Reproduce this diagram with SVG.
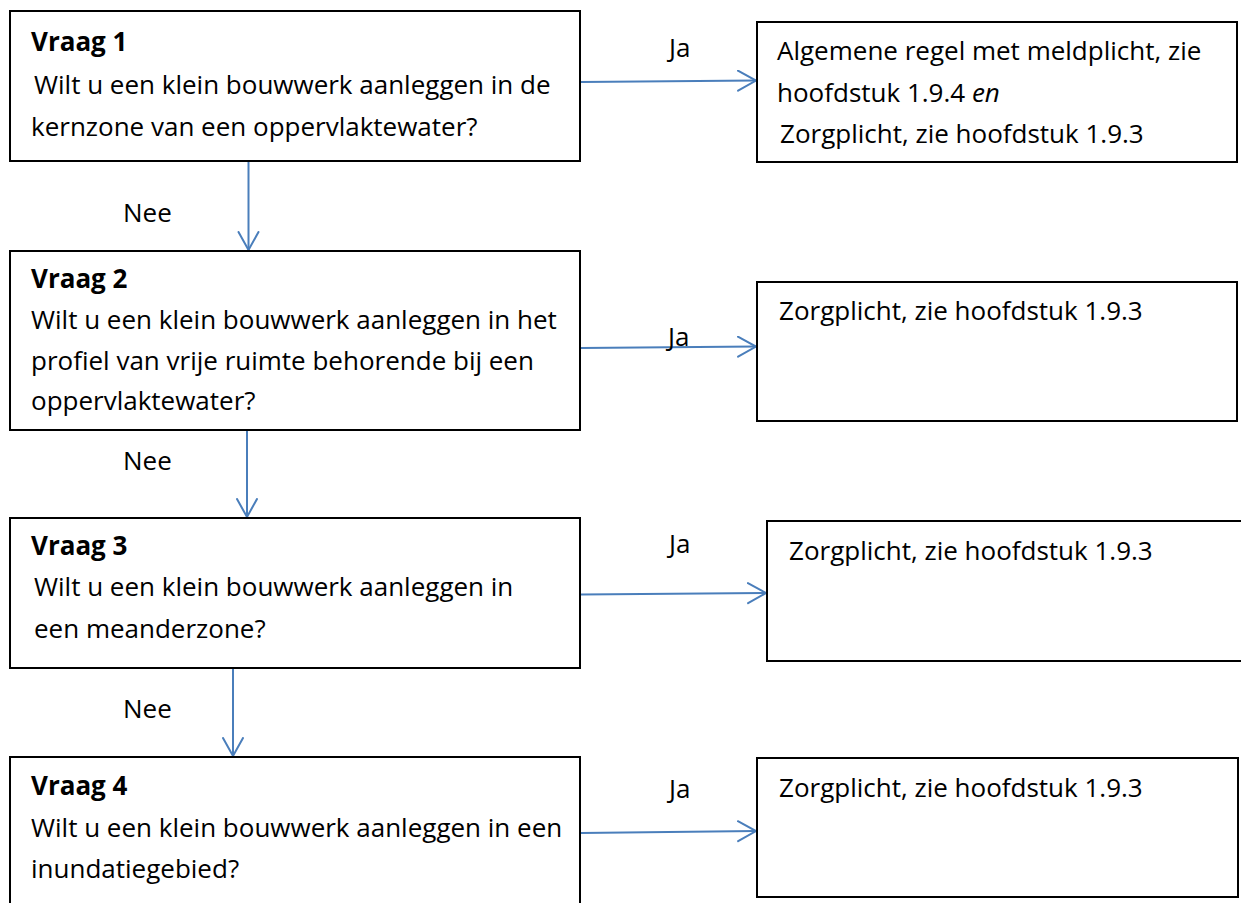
<svg xmlns="http://www.w3.org/2000/svg" width="1241" height="903" viewBox="0 0 1241 903">
<style>
  .box { fill: #ffffff; stroke: #000000; stroke-width: 2; }
  .t { font-family: "Open Sans", "Liberation Sans", sans-serif; font-size: 26px; fill: #000000; }
  .b { font-weight: bold; }
  .conn { stroke: #4A7EBB; stroke-width: 2; fill: none; }
  .head { stroke: #4A7EBB; stroke-width: 2; fill: none; stroke-linecap: round; stroke-linejoin: miter; }
</style>
<defs>
  <marker id="arr" markerWidth="24" markerHeight="24" refX="19" refY="11" orient="auto" markerUnits="userSpaceOnUse">
    <path class="head" d="M1,1 L19,11 L1,21"/>
  </marker>
</defs>
<rect width="1241" height="903" fill="#ffffff"/>

<g id="connectors">
  <line class="conn" x1="248.5" y1="162" x2="248.5" y2="250" marker-end="url(#arr)"/>
  <line class="conn" x1="247" y1="431" x2="247" y2="517" marker-end="url(#arr)"/>
  <line class="conn" x1="233" y1="669" x2="233" y2="756" marker-end="url(#arr)"/>
  <line class="conn" x1="581" y1="82" x2="756" y2="80.5" marker-end="url(#arr)"/>
  <line class="conn" x1="581" y1="348" x2="756" y2="346.5" marker-end="url(#arr)"/>
  <line class="conn" x1="581" y1="594.5" x2="766" y2="593" marker-end="url(#arr)"/>
  <line class="conn" x1="581" y1="833" x2="756" y2="831" marker-end="url(#arr)"/>
  <text class="t" x="669" y="57">Ja</text>
  <text class="t" x="668" y="346">Ja</text>
  <text class="t" x="669" y="553">Ja</text>
  <text class="t" x="669" y="798">Ja</text>
  <text class="t" x="123" y="222">Nee</text>
  <text class="t" x="123" y="470">Nee</text>
  <text class="t" x="123" y="718">Nee</text>
</g>

<g id="q1">
  <rect class="box" x="10" y="11" width="570" height="150"/>
  <text class="t b" x="31" y="51">Vraag 1</text>
  <text class="t" x="34" y="94">Wilt u een klein bouwwerk aanleggen in de</text>
  <text class="t" x="31" y="136">kernzone van een oppervlaktewater?</text>
</g>

<g id="r1">
  <rect class="box" x="757" y="22" width="480" height="140"/>
  <text class="t" x="777" y="60">Algemene regel met meldplicht, zie</text>
  <text class="t" x="777" y="101.5">hoofdstuk 1.9.4 <tspan font-style="italic">en</tspan></text>
  <text class="t" x="780" y="143">Zorgplicht, zie hoofdstuk 1.9.3</text>
</g>

<g id="q2">
  <rect class="box" x="10" y="251" width="570" height="179"/>
  <text class="t b" x="31" y="288">Vraag 2</text>
  <text class="t" x="31" y="329">Wilt u een klein bouwwerk aanleggen in het</text>
  <text class="t" x="31" y="370">profiel van vrije ruimte behorende bij een</text>
  <text class="t" x="31" y="410">oppervlaktewater?</text>
</g>

<g id="r2">
  <rect class="box" x="757" y="282" width="480" height="139"/>
  <text class="t" x="779" y="320">Zorgplicht, zie hoofdstuk 1.9.3</text>
</g>

<g id="q3">
  <rect class="box" x="10" y="518" width="570" height="150"/>
  <text class="t b" x="31" y="555">Vraag 3</text>
  <text class="t" x="34" y="596">Wilt u een klein bouwwerk aanleggen in</text>
  <text class="t" x="34" y="638">een meanderzone?</text>
</g>

<g id="r3">
  <rect class="box" x="767" y="521" width="490" height="140"/>
  <text class="t" x="789" y="560">Zorgplicht, zie hoofdstuk 1.9.3</text>
</g>

<g id="q4">
  <rect class="box" x="10" y="757" width="570" height="170"/>
  <text class="t b" x="31" y="795">Vraag 4</text>
  <text class="t" x="31" y="837">Wilt u een klein bouwwerk aanleggen in een</text>
  <text class="t" x="31" y="878">inundatiegebied?</text>
</g>

<g id="r4">
  <rect class="box" x="757" y="758" width="481" height="139"/>
  <text class="t" x="779" y="796.5">Zorgplicht, zie hoofdstuk 1.9.3</text>
</g>
</svg>
